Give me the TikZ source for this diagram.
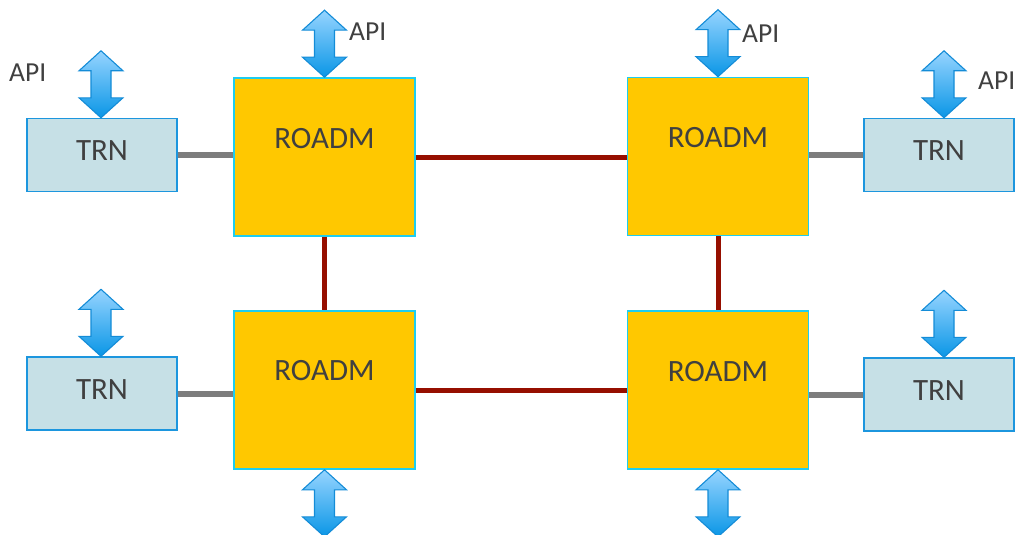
\documentclass[tikz,border=0pt]{standalone}
\usepackage{fontspec}
\setmainfont{Carlito}
\usetikzlibrary{calc}
\definecolor{roadmfill}{RGB}{255,200,0}
\definecolor{roadmedge}{RGB}{30,205,240}
\definecolor{trnfill}{RGB}{198,224,230}
\definecolor{trnedge}{RGB}{28,150,222}
\definecolor{txtgray}{RGB}{64,64,64}
\definecolor{redline}{RGB}{150,15,0}
\definecolor{grayline}{RGB}{125,125,125}
\definecolor{arrtop}{RGB}{150,212,255}
\definecolor{arrbot}{RGB}{10,150,230}
\definecolor{arredge}{RGB}{20,140,215}
\tikzset{
  roadm/.style={draw=roadmedge, line width=1.6pt, fill=roadmfill, minimum width=181pt, minimum height=158pt, inner sep=0pt},
  trn/.style={draw=trnedge, line width=1.4pt, fill=trnfill, minimum width=150pt, minimum height=73pt, inner sep=0pt},
  rtext/.style={text=txtgray, font=\fontsize{31}{31}\selectfont, inner sep=0pt},
  apitext/.style={text=txtgray, font=\fontsize{27.5}{28}\selectfont, inner sep=0pt, anchor=west},
  redlink/.style={draw=redline, line width=5pt},
  graylink/.style={draw=grayline, line width=6pt},
  apiarrow/.pic={
    \path[draw=arredge, line width=1.1pt, line join=miter, top color=arrtop, bottom color=arrbot]
      (0,0) -- (22,-20) -- (10,-20) -- (10,-47) -- (22,-47) -- (0,-67)
      -- (-22,-47) -- (-10,-47) -- (-10,-20) -- (-22,-20) -- cycle;
  }
}
\begin{document}
\begin{tikzpicture}[x=1pt, y=-1pt]
\useasboundingbox (0,0) rectangle (1017,535);
% ROADMs
\node[roadm] (r1) at (324.5,157) {};
\node[roadm] (r2) at (718,156.5) {};
\node[roadm] (r3) at (324.5,390) {};
\node[roadm] (r4) at (718,390) {};
\node[rtext] (r1t) at ([yshift=18pt]r1.center) {ROADM};
\node[rtext] (r2t) at ([yshift=19pt]r2.center) {ROADM};
\node[rtext] (r3t) at ([yshift=19pt]r3.center) {ROADM};
\node[rtext] (r4t) at ([yshift=18pt]r4.center) {ROADM};
% TRNs
\node[trn] (t1) at (102,155) {};
\node[trn] (t2) at (939,155) {};
\node[trn] (t3) at (102,393.5) {};
\node[trn] (t4) at (939,394.5) {};
\node[rtext] (t1t) at ([yshift=4pt]t1.center) {TRN};
\node[rtext] (t2t) at ([yshift=4pt]t2.center) {TRN};
\node[rtext] (t3t) at ([yshift=3.5pt]t3.center) {TRN};
\node[rtext] (t4t) at ([yshift=4pt]t4.center) {TRN};
% links
\draw[graylink] (t1.east) -- (r1.west |- t1.east);
\draw[graylink] (t3.east) -- (r3.west |- t3.east);
\draw[graylink] (r2.east |- t2.west) -- (t2.west);
\draw[graylink] (r4.east |- t4.west) -- (t4.west);
\draw[redlink] (r1.east) -- (r2.west |- r1.east);
\draw[redlink] (r3.east) -- (r4.west |- r3.east);
\draw[redlink] (r1.south) -- (r3.north);
\draw[redlink] (r2.south) -- (r4.north);
% API arrows
\pic at ([xshift=-1pt]t1.north) {apiarrow};
\pic at ([xshift=-1pt]t3.north) {apiarrow};
\pic at ([xshift=5pt]t2.north) {apiarrow};
\pic at ([xshift=5pt]t4.north) {apiarrow};
\pic at (r1.north) {apiarrow};
\pic at (r2.north) {apiarrow};
\pic at ([yshift=-67pt]r3.south) {apiarrow};
\pic at ([yshift=-67pt]r4.south) {apiarrow};
% API labels
\node[apitext] (a1) at (9,73) {API};
\node[apitext] (a2) at (349,32) {API};
\node[apitext] (a3) at (742,34) {API};
\node[apitext] (a4) at (978,81) {API};
\end{tikzpicture}
\end{document}
